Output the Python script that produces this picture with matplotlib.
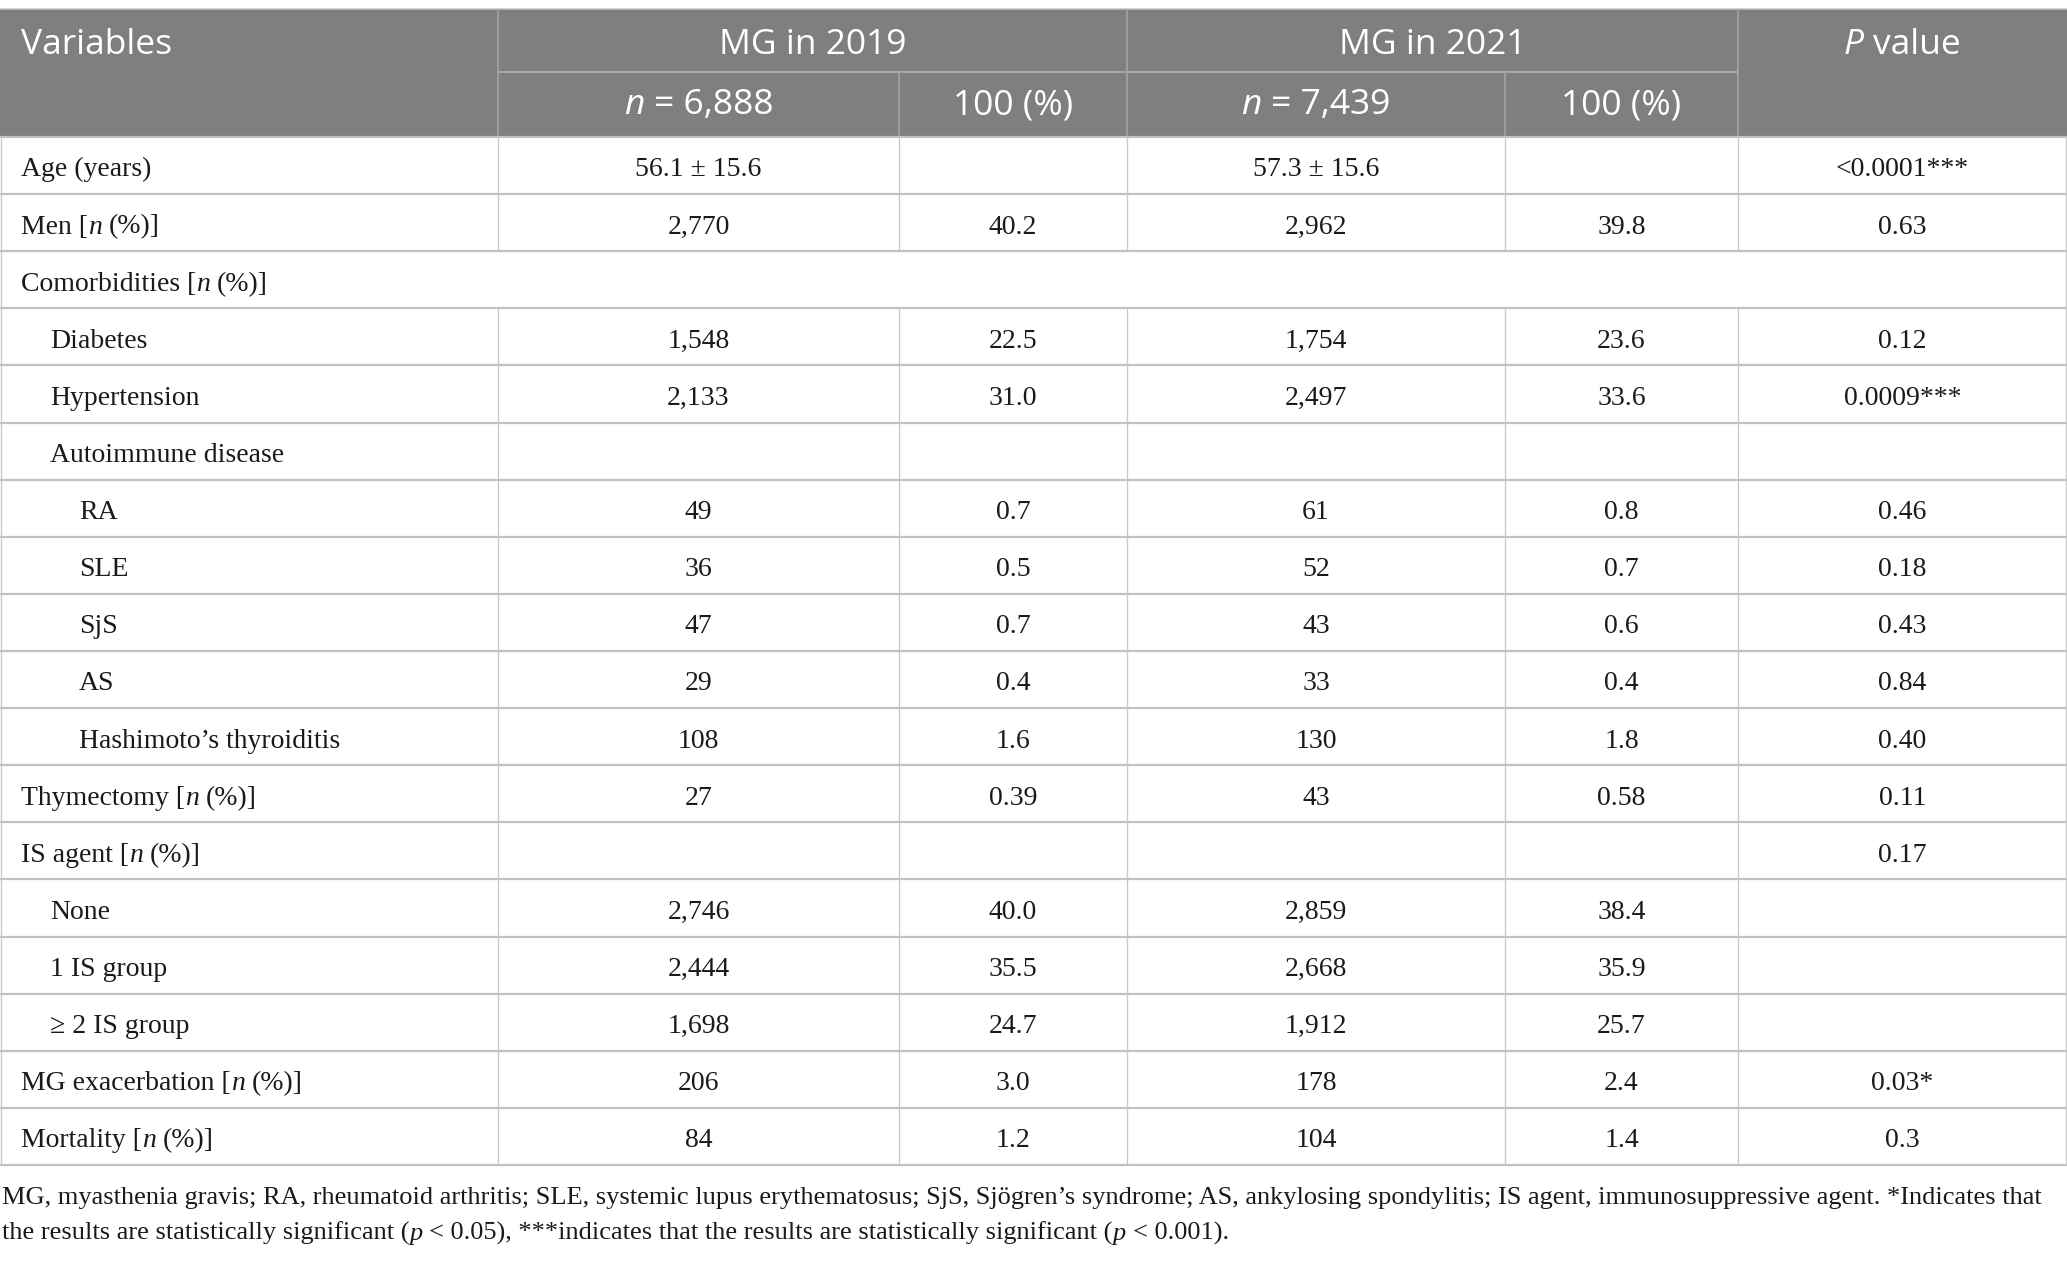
import re
import matplotlib
matplotlib.use("Agg")
import matplotlib.pyplot as plt
from matplotlib.patches import Rectangle
from matplotlib.font_manager import FontProperties

# ---------------- data ----------------
header_top = ["Variables", "MG in 2019", "MG in 2021", "{P} value"]
header_sub = ["{n} = 6,888", "100 (%)", "{n} = 7,439", "100 (%)"]

variables = [
    "Age (years)", "Men [{n} (%)]", "Comorbidities [{n} (%)]", "Diabetes",
    "Hypertension", "Autoimmune disease", "RA", "SLE", "SjS", "AS",
    "Hashimoto\u2019s thyroiditis", "Thymectomy [{n} (%)]", "IS agent [{n} (%)]",
    "None", "1 IS group", "\u2265 2 IS group", "MG exacerbation [{n} (%)]",
    "Mortality [{n} (%)]",
]
indent_level = [0, 0, 0, 1, 1, 1, 2, 2, 2, 2, 2, 0, 0, 1, 1, 1, 0, 0]
spanning_rows = ["Comorbidities [{n} (%)]"]

n_2019 = ["56.1 \u00b1 15.6", "2,770", "", "1,548", "2,133", "", "49", "36", "47", "29",
          "108", "27", "", "2,746", "2,444", "1,698", "206", "84"]
pct_2019 = ["", "40.2", "", "22.5", "31.0", "", "0.7", "0.5", "0.7", "0.4",
            "1.6", "0.39", "", "40.0", "35.5", "24.7", "3.0", "1.2"]
n_2021 = ["57.3 \u00b1 15.6", "2,962", "", "1,754", "2,497", "", "61", "52", "43", "33",
          "130", "43", "", "2,859", "2,668", "1,912", "178", "104"]
pct_2021 = ["", "39.8", "", "23.6", "33.6", "", "0.8", "0.7", "0.6", "0.4",
            "1.8", "0.58", "", "38.4", "35.9", "25.7", "2.4", "1.4"]
p_values = ["<0.0001***", "0.63", "", "0.12", "0.0009***", "", "0.46", "0.18", "0.43",
            "0.84", "0.40", "0.11", "0.17", "", "", "", "0.03*", "0.3"]

footnote_lines = [
    "MG, myasthenia gravis; RA, rheumatoid arthritis; SLE, systemic lupus erythematosus; "
    "SjS, Sj\u00f6gren\u2019s syndrome; AS, ankylosing spondylitis; IS agent, immunosuppressive agent. "
    "*Indicates that",
    "the results are statistically significant ({p} < 0.05), ***indicates that the results are "
    "statistically significant ({p} < 0.001).",
]

# ---------------- layout ----------------
W, H, DPI = 2067, 1262, 100
col_edges = [0, 498, 899, 1127, 1505, 1738, 2067]
head_top, head_mid, head_bot = 9, 72, 137
row_h = (1165 - head_bot) / len(variables)

HEAD_BG = "#7f7f7f"
HEAD_LINE = "#a6a6a6"
BODY_HLINE = "#c2c2c2"
BODY_VLINE = "#c8c8c8"
TXT = "#1a1a1a"

fig = plt.figure(figsize=(W / DPI, H / DPI), dpi=DPI)
ax = fig.add_axes([0, 0, 1, 1])
ax.set_xlim(0, W)
ax.set_ylim(H, 0)
ax.axis("off")
renderer = fig.canvas.get_renderer()

serif = FontProperties(family="Liberation Serif", size=20)
serif_it = FontProperties(family="Liberation Serif", style="italic", size=20)
foot = FontProperties(family="Liberation Serif", size=19)
foot_it = FontProperties(family="Liberation Serif", style="italic", size=19)
sans = FontProperties(family="Open Sans", size=25.5)
sans_it = FontProperties(family="Open Sans", style="italic", size=25.5)

PX2PT = 72.0 / DPI


def twidth(s, fp):
    if not s:
        return 0.0
    t = ax.text(0, 0, s, fontproperties=fp)
    w = t.get_window_extent(renderer).width
    t.remove()
    return w


_space_cache = {}


def space_w(fp):
    key = id(fp)
    if key not in _space_cache:
        _space_cache[key] = twidth("a a", fp) - twidth("aa", fp)
    return _space_cache[key]


def parse(markup):
    parts = re.split(r"(\{.*?\})", markup)
    segs = []
    for p in parts:
        if not p:
            continue
        if p.startswith("{") and p.endswith("}"):
            segs.append((p[1:-1], True))
        else:
            segs.append((p, False))
    return segs


def draw_runs(x, y, markup, fp, fp_it, ha="left", color=TXT):
    segs = parse(markup)
    items = []
    total = 0.0
    for s, it in segs:
        f = fp_it if it else fp
        lead = len(s) - len(s.lstrip(" "))
        core = s.strip(" ")
        trail = len(s.rstrip(" ")) - len(core) if core else 0
        trail = len(s) - len(s.rstrip(" ")) if core else 0
        sw = space_w(f)
        w = twidth(core, f)
        items.append((lead * sw, core, f, w, trail * sw))
        total += lead * sw + w + trail * sw
    if ha == "center":
        cx = x - total / 2
    elif ha == "right":
        cx = x - total
    else:
        cx = x
    for lead, core, f, w, trail in items:
        cx += lead
        if core:
            ax.text(cx, y, core, fontproperties=f, color=color, ha="left", va="baseline")
        cx += w + trail


# ---------------- header ----------------
ax.add_patch(Rectangle((0, head_top), W, head_bot - head_top, facecolor=HEAD_BG,
                       edgecolor="none", zorder=0))
ax.hlines(8.5, 0, W, color="#c4c4c4", lw=1.5 * PX2PT)
ax.hlines(head_mid, col_edges[1], col_edges[5], color=HEAD_LINE, lw=2 * PX2PT)
for xe in (col_edges[1], col_edges[3], col_edges[5]):
    ax.vlines(xe, head_top, head_bot, color=HEAD_LINE, lw=1.5 * PX2PT)
for xe in (col_edges[2], col_edges[4]):
    ax.vlines(xe, head_mid, head_bot, color=HEAD_LINE, lw=1.5 * PX2PT)

base1 = 54
base2 = 114
draw_runs(21, base1, header_top[0], sans, sans_it, ha="left", color="white")
draw_runs((col_edges[1] + col_edges[3]) / 2, base1, header_top[1], sans, sans_it,
          ha="center", color="white")
draw_runs((col_edges[3] + col_edges[5]) / 2, base1, header_top[2], sans, sans_it,
          ha="center", color="white")
draw_runs((col_edges[5] + col_edges[6]) / 2, base1, header_top[3], sans, sans_it,
          ha="center", color="white")
for j, lab in enumerate(header_sub):
    cx = (col_edges[j + 1] + col_edges[j + 2]) / 2
    draw_runs(cx, base2, lab, sans, sans_it, ha="center", color="white")

# ---------------- body ----------------
value_cols = [n_2019, pct_2019, n_2021, pct_2021, p_values]
indent_px = [21, 50, 79]

for i, lab in enumerate(variables):
    top = head_bot + i * row_h
    bot = top + row_h
    base = top + 39.5
    draw_runs(indent_px[indent_level[i]], base, lab, serif, serif_it, ha="left")
    if lab not in spanning_rows:
        for j, col in enumerate(value_cols):
            cx = (col_edges[j + 1] + col_edges[j + 2]) / 2
            if col[i]:
                draw_runs(cx, base, col[i], serif, serif_it, ha="center")
        ax.vlines(col_edges[1:-1], top, bot, color=BODY_VLINE, lw=1.3 * PX2PT)
    ax.vlines([0.7, W - 0.7], top, bot, color=BODY_VLINE, lw=1.3 * PX2PT)

for k in range(len(variables) + 1):
    y = head_bot + k * row_h
    ax.hlines(y, 0, W, color=BODY_HLINE, lw=2.2 * PX2PT)

# ---------------- footnote ----------------
draw_runs(2, 1204, footnote_lines[0], foot, foot_it, ha="left")
draw_runs(2, 1240, footnote_lines[1], foot, foot_it, ha="left")

fig.savefig("out.png", dpi=DPI, facecolor="white")
